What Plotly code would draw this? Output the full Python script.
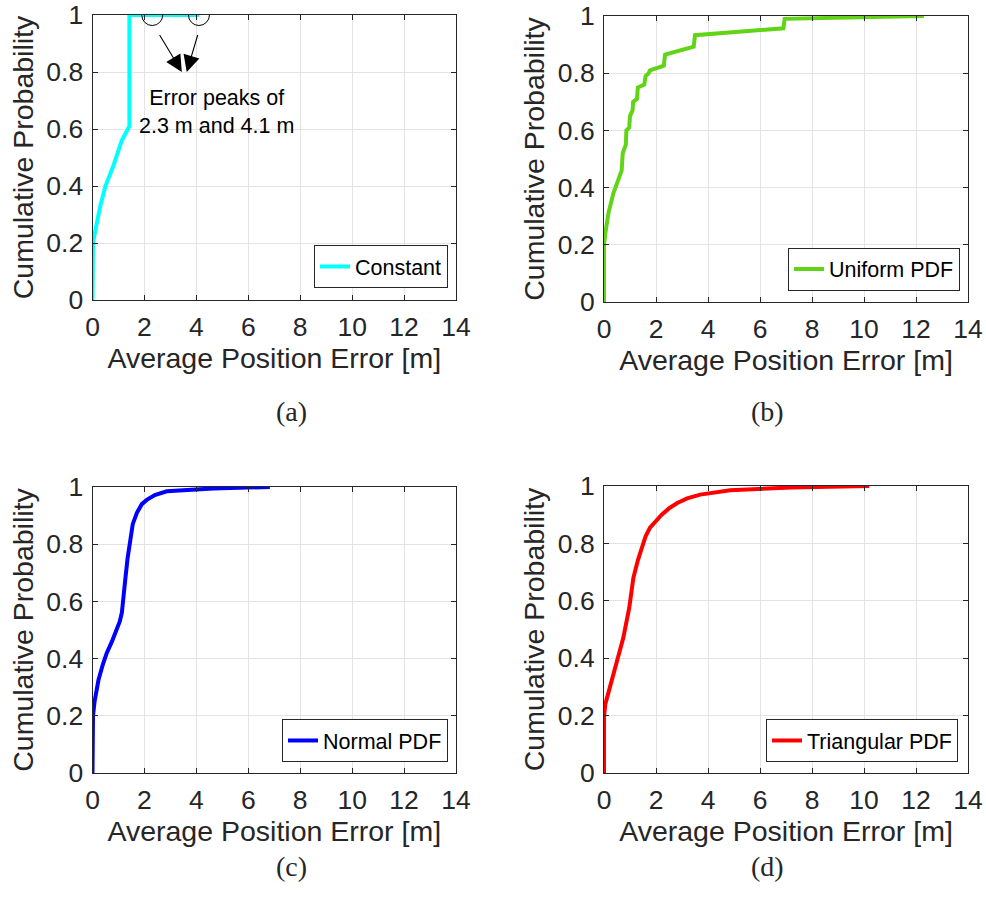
import plotly.graph_objects as go

# ---------------- data ----------------
const_x = [0, 0, 0.02, 0.1, 0.3, 0.5, 0.8, 1.13, 1.42, 1.42, 4.1]
const_y = [0, 0.16, 0.2, 0.24, 0.33, 0.4, 0.47, 0.56, 0.61, 1.0, 1.0]

unif_x = [0, 0, 0.05, 0.17, 0.36, 0.6, 0.68, 0.72, 0.84, 0.86, 0.97, 1.0, 1.1, 1.12,
          1.27, 1.3, 1.55, 1.6, 1.72, 1.77, 2.3, 2.35, 3.45, 3.5, 5.0, 6.9, 6.95, 9.0, 12.3]
unif_y = [0, 0.2, 0.24, 0.31, 0.38, 0.44, 0.46, 0.52, 0.55, 0.6, 0.61, 0.65, 0.67, 0.70,
          0.71, 0.75, 0.76, 0.79, 0.80, 0.81, 0.826, 0.865, 0.893, 0.933, 0.945, 0.957, 0.99, 0.995, 1.0]

norm_x = [0, 0, 0.02, 0.08, 0.23, 0.4, 0.55, 0.75, 0.94, 1.05, 1.13, 1.2, 1.26, 1.35,
          1.45, 1.55, 1.71, 1.9, 2.09, 2.4, 2.86, 3.6, 4.65, 6.83]
norm_y = [0, 0.16, 0.2, 0.25, 0.325, 0.38, 0.42, 0.46, 0.5, 0.53, 0.56, 0.61, 0.675, 0.75,
          0.815, 0.87, 0.91, 0.94, 0.955, 0.972, 0.985, 0.99, 0.995, 1.0]

tri_x = [0, 0, 0.05, 0.17, 0.42, 0.74, 0.97, 1.05, 1.13, 1.3, 1.45, 1.6, 1.77, 2.0, 2.22,
         2.5, 2.8, 3.2, 3.7, 4.85, 7.2, 10.2]
tri_y = [0, 0.195, 0.24, 0.28, 0.37, 0.47, 0.575, 0.63, 0.68, 0.74, 0.785, 0.825, 0.855, 0.88, 0.9,
         0.922, 0.94, 0.957, 0.97, 0.985, 0.995, 1.0]

series_names = ["Constant", "Uniform PDF", "Normal PDF", "Triangular PDF"]
series_colors = ["#00FFFF", "#62D418", "#0000FF", "#FF0000"]
subcaptions = ["(a)", "(b)", "(c)", "(d)"]
peak_values = [2.3, 4.1]
x_ticks = [0, 2, 4, 6, 8, 10, 12, 14]
y_ticks = [0, 0.2, 0.4, 0.6, 0.8, 1]

W, H = 986, 901
FONT = "Liberation Sans, Arial, Helvetica, sans-serif"
TXT = "#262626"


def px(p):
    return p / W


def py(p):
    return 1 - p / H


# panel boxes in page pixels (left, right, top, bottom)
boxes = [(92.5, 456, 15, 300), (604, 968, 16, 302), (92.5, 456, 487, 773), (604, 968, 486, 773)]
legend_pos = [(448, 288), (960, 290.5), (448, 762), (958, 762)]

fig = go.Figure()
data = [(const_x, const_y), (unif_x, unif_y), (norm_x, norm_y), (tri_x, tri_y)]

for i, ((xs, ys), name, col) in enumerate(zip(data, series_names, series_colors)):
    sfx = "" if i == 0 else str(i + 1)
    fig.add_trace(go.Scatter(x=xs, y=ys, mode="lines", name=name,
                             line=dict(color=col, width=4),
                             xaxis="x" + sfx, yaxis="y" + sfx,
                             legend="legend" + sfx, showlegend=True))
    l, r, t, b = boxes[i]
    ax = dict(domain=[px(l), px(r)], range=[0, 14], tickvals=x_ticks,
              ticks="inside", ticklen=5, tickcolor=TXT, showline=True, linecolor=TXT,
              linewidth=1, mirror="ticks", showgrid=True, gridcolor="#E3E3E3", gridwidth=1,
              zeroline=False, tickfont=dict(family=FONT, size=26.5, color=TXT),
              ticklabeloverflow="allow", ticklabelstandoff=3,
              title=dict(text="Average Position Error [m]", standoff=1,
                         font=dict(family=FONT, size=28.5, color=TXT)),
              anchor="y" + sfx, fixedrange=True, automargin=False)
    ay = dict(domain=[py(b), py(t)], range=[0, 1], tickvals=y_ticks,
              ticks="inside", ticklen=5, tickcolor=TXT, showline=True, linecolor=TXT,
              linewidth=1, mirror="ticks", showgrid=True, gridcolor="#E3E3E3", gridwidth=1,
              zeroline=False, tickfont=dict(family=FONT, size=26.5, color=TXT),
              ticklabeloverflow="allow", ticklabelstandoff=3,
              title=dict(text="Cumulative Probability", standoff=4,
                         font=dict(family=FONT, size=28.5, color=TXT)),
              anchor="x" + sfx, fixedrange=True, automargin=False)
    fig.layout["xaxis" + sfx] = ax
    fig.layout["yaxis" + sfx] = ay
    lx, ly = legend_pos[i]
    fig.layout["legend" + sfx] = dict(x=px(lx), y=py(ly), xanchor="right", yanchor="bottom",
                                      bgcolor="white", bordercolor=TXT, borderwidth=1,
                                      font=dict(family=FONT, size=21.5, color="black"),
                                      itemwidth=30, tracegroupgap=0)
    # subcaption
    fig.add_annotation(x=px((l + r) / 2), y=py(412 if i < 2 else 884), xref="paper", yref="paper",
                       text=subcaptions[i], showarrow=False,
                       font=dict(family="Liberation Serif, Times New Roman, serif", size=28, color=TXT))

# circles on the error peaks of panel (a)
for pv in peak_values:
    fig.add_shape(type="circle", xref="x", yref="y", xsizemode="pixel", ysizemode="pixel",
                  xanchor=pv, yanchor=1.0, x0=-10.5, x1=10.5, y0=-10.5, y1=10.5,
                  line=dict(color="black", width=1), layer="above")

# arrows from the circles down to the text
fig.add_annotation(x=3.44, y=0.80, ax=2.55, ay=0.935, xref="x", yref="y", axref="x", ayref="y",
                   showarrow=True, arrowhead=2, arrowsize=3, arrowwidth=1.1, arrowcolor="black", text="")
fig.add_annotation(x=3.63, y=0.80, ax=4.07, ay=0.935, xref="x", yref="y", axref="x", ayref="y",
                   showarrow=True, arrowhead=2, arrowsize=3, arrowwidth=1.1, arrowcolor="black", text="")
fig.add_annotation(x=4.78, y=0.66, xref="x", yref="y", showarrow=False,
                   text="Error peaks of<br>2.3 m and 4.1 m",
                   font=dict(family=FONT, size=21.5, color="black"), align="center")

fig.update_layout(width=W, height=H, margin=dict(l=0, r=0, t=0, b=0),
                  paper_bgcolor="white", plot_bgcolor="white", showlegend=True)

# remove the default 8px page margin so the figure fills the 986x901 window exactly
fig.write_html("out.html", config={"displayModeBar": False},
               post_script="document.body.style.margin='0';document.body.style.overflow='hidden';")
